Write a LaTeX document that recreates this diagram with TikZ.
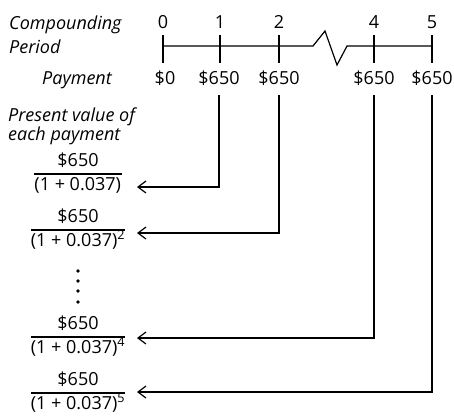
\documentclass[tikz,border=0pt]{standalone}
\usepackage{fontspec}
\setmainfont{Open Sans}
\usepackage{tikz}
\usetikzlibrary{arrows.meta}

% present value of one payment, as a stacked fraction
\newcommand{\pvfrac}[1]{{\setlength{\arrayrulewidth}{1.2pt}%
  \renewcommand{\arraystretch}{1.05}%
  \begin{tabular}[b]{@{}c@{}}\$650\\\hline (1 + 0.037)\textsuperscript{#1}\end{tabular}}}

\begin{document}
\begin{tikzpicture}[
  x=1pt, y=-1pt,
  font=\fontsize{18}{21}\selectfont,
  >={Straight Barb[length=8pt,width=12pt]},
  lab/.style={font=\fontsize{18}{21}\selectfont\itshape, inner sep=0pt},
  num/.style={inner sep=0pt, anchor=base},
  pv/.style={inner sep=0pt, anchor=base},
  axis/.style={line width=1.2pt},
  conn/.style={->, line width=1.2pt, shorten <=10pt}
]
\useasboundingbox (0,0) rectangle (454,416);

% ---------- left: row labels ----------
\node[lab, anchor=base west] (cmp) at (9,29)  {Compounding};
\node[lab, anchor=base west] (per) at (9,53)  {Period};
\node[lab, anchor=base east] (pay) at (112,84) {Payment};
\node[lab, anchor=base west] (pvl) at (8,121) {Present value of};
\node[lab, anchor=base west] (pve) at (8,140) {each payment};

% ---------- top: time line ----------
\foreach \n/\x in {0/163,1/220,2/279,4/374,5/432}{
  \node[num] (t\n) at (\x,28) {\n};
  \draw[axis] (\x,35) -- (\x,63);
}
\draw[axis] (163,46) -- (313,46) -- (325,31) -- (337,65) -- (347,46) -- (432,46);

% payments
\node[num] (p0) at (165,84) {\$0};
\node[num] (p1) at (219,84) {\$650};
\node[num] (p2) at (279,84) {\$650};
\node[num] (p4) at (374,84) {\$650};
\node[num] (p5) at (432,84) {\$650};

% ---------- bottom: present values ----------
\node[pv] (f1) at (78,190) {\pvfrac{}};
\node[pv] (f2) at (78,246) {\pvfrac{2}};
\node[pv] (f4) at (78,353) {\pvfrac{4}};
\node[pv] (f5) at (78,409) {\pvfrac{5}};

\foreach \y in {271,281,291,302}
  \fill (78,\y) circle (1.8pt);

% arrow tips next to each fraction
\coordinate (a1) at (137,187);
\coordinate (a2) at (137,233);
\coordinate (a4) at (137,338);
\coordinate (a5) at (137,392);

\draw[conn] (p1.center |- p1.south) |- (a1);
\draw[conn] (p2.center |- p2.south) |- (a2);
\draw[conn] (p4.center |- p4.south) |- (a4);
\draw[conn] (p5.center |- p5.south) |- (a5);

\end{tikzpicture}
\end{document}
